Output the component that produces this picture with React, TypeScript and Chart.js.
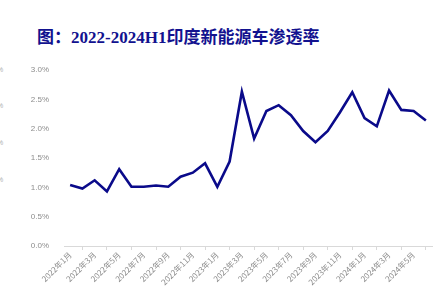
import React, { useEffect, useRef } from "react";
import { Chart, registerables } from "chart.js";

Chart.register(...registerables);

const months: string[] = [
  "2022年1月", "2022年2月", "2022年3月", "2022年4月", "2022年5月", "2022年6月",
  "2022年7月", "2022年8月", "2022年9月", "2022年10月", "2022年11月", "2022年12月",
  "2023年1月", "2023年2月", "2023年3月", "2023年4月", "2023年5月", "2023年6月",
  "2023年7月", "2023年8月", "2023年9月", "2023年10月", "2023年11月", "2023年12月",
  "2024年1月", "2024年2月", "2024年3月", "2024年4月", "2024年5月", "2024年6月",
];

const penetration: number[] = [
  1.04, 0.98, 1.12, 0.93, 1.31, 1.01, 1.01, 1.03, 1.01, 1.18, 1.25, 1.41,
  1.01, 1.44, 2.63, 1.83, 2.3, 2.4, 2.23, 1.96, 1.77, 1.96, 2.28, 2.62,
  2.18, 2.04, 2.65, 2.32, 2.3, 2.14,
];

const yTicks: number[] = [0, 0.5, 1, 1.5, 2, 2.5, 3];

const title = "图：2022-2024H1印度新能源车渗透率";

export default function App() {
  const ref = useRef<HTMLCanvasElement | null>(null);

  useEffect(() => {
    if (!ref.current) return;
    const chart = new Chart(ref.current, {
      type: "line",
      data: {
        labels: months,
        datasets: [
          {
            data: penetration,
            borderColor: "#0a0a8a",
            borderWidth: 2.6,
            pointRadius: 0,
            tension: 0,
            fill: false,
          },
        ],
      },
      options: {
        animation: false,
        responsive: false,
        maintainAspectRatio: false,
        layout: { padding: { top: 70, right: 13, left: 0, bottom: 0 } },
        plugins: { legend: { display: false }, tooltip: { enabled: false }, title: { display: false } },
        scales: {
          x: {
            offset: true,
            grid: {
              offset: true,
              drawOnChartArea: false,
              drawTicks: true,
              tickLength: 4,
              color: "#d9d9d9",
            },
            border: { color: "#d9d9d9" },
            ticks: {
              autoSkip: false,
              maxRotation: 45,
              minRotation: 45,
              padding: 0,
              color: "#8c8c8c",
              font: { size: 8, family: "'Noto Sans CJK SC', sans-serif" },
              callback: (_v: any, i: number) => (i % 2 === 0 ? months[i] : null),
            },
            afterFit: (s: any) => {
              s.height = 48;
            },
          },
          y: {
            min: yTicks[0],
            max: yTicks[yTicks.length - 1],
            grid: { display: false },
            border: { display: false },
            afterBuildTicks: (s: any) => {
              s.ticks = yTicks.map((v) => ({ value: v }));
            },
            ticks: {
              color: "#8c8c8c",
              padding: 7,
              font: { size: 8, family: "'Liberation Sans', Arial, sans-serif" },
              callback: (v: any) => Number(v).toFixed(1) + "%",
            },
            afterFit: (s: any) => {
              s.width = 64;
            },
          },
        },
      },
    });
    return () => chart.destroy();
  }, []);

  const fragY = [66, 102, 139, 176];

  return (
    <div style={{ position: "absolute", left: 0, top: 0, width: 445, height: 294, background: "#fff", overflow: "hidden" }}>
      <div
        style={{
          position: "absolute",
          left: 37,
          top: 27,
          fontSize: 17,
          fontWeight: "bold",
          color: "#12128f",
          fontFamily: "'Liberation Serif', 'Noto Sans CJK SC', serif",
          whiteSpace: "nowrap",
          lineHeight: "22px",
        }}
      >
        {title}
      </div>
      {fragY.map((y, i) => (
        <span
          key={i}
          style={{
            position: "absolute",
            left: -3,
            top: y,
            fontSize: 7,
            color: "#b0b0b0",
            fontFamily: "'Liberation Sans', sans-serif",
          }}
        >
          %
        </span>
      ))}
      <canvas ref={ref} width={445} height={294} style={{ position: "absolute", left: 0, top: 0 }} />
    </div>
  );
}
